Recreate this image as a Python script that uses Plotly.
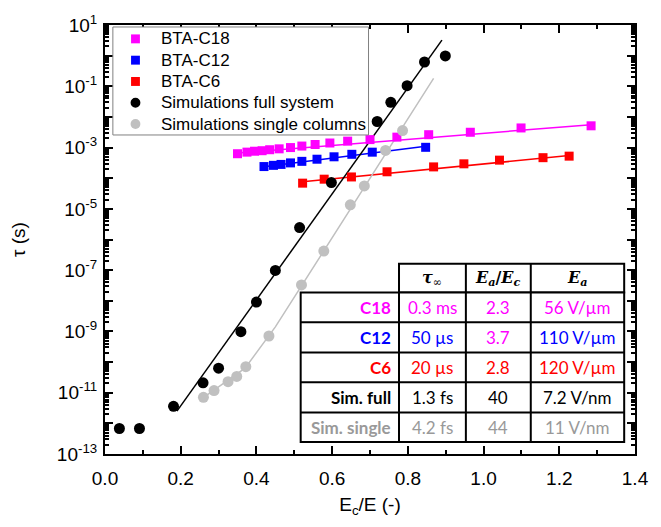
import plotly.graph_objects as go

# ---------------- data ----------------
c18_x = [0.350, 0.375, 0.395, 0.415, 0.435, 0.460, 0.490, 0.520, 0.555, 0.594, 0.641, 0.700, 0.771, 0.855, 0.965, 1.099, 1.284]
c18_y = [6.3e-4, 7.1e-4, 7.6e-4, 7.9e-4, 8.5e-4, 9.1e-4, 1.0e-3, 1.12e-3, 1.26e-3, 1.41e-3, 1.62e-3, 1.82e-3, 2.19e-3, 2.63e-3, 3.16e-3, 4.37e-3, 5.13e-3]
c18_fit_x = [0.35, 1.284]
c18_fit_y = [6.6e-4, 5.6e-3]

c12_x = [0.420, 0.445, 0.465, 0.490, 0.520, 0.560, 0.605, 0.652, 0.706, 0.847]
c12_y = [2.4e-4, 2.63e-4, 2.82e-4, 3.16e-4, 3.55e-4, 4.17e-4, 5.0e-4, 6.03e-4, 7.08e-4, 1.02e-3]
c12_fit_x = [0.42, 0.847]
c12_fit_y = [2.35e-4, 1.1e-3]

c6_x = [0.522, 0.579, 0.651, 0.745, 0.868, 0.948, 1.042, 1.157, 1.226]
c6_y = [6.9e-5, 9.3e-5, 1.10e-4, 1.62e-4, 2.34e-4, 2.95e-4, 3.89e-4, 4.68e-4, 5.25e-4]
c6_fit_x = [0.522, 1.226]
c6_fit_y = [7.6e-5, 5.5e-4]

full_x = [0.038, 0.091, 0.181, 0.259, 0.300, 0.359, 0.400, 0.450, 0.514, 0.598, 0.719, 0.755, 0.798, 0.844, 0.899]
full_y = [6.8e-13, 6.8e-13, 3.6e-12, 2.1e-11, 6.3e-11, 9.8e-10, 9.1e-9, 9.8e-8, 2.45e-6, 7.2e-5, 7.1e-3, 3.0e-2, 1.05e-1, 6.2e-1, 9.8e-1]
full_fit_x = [0.19, 0.89]
full_fit_y = [2.5e-12, 3.2]

single_x = [0.260, 0.288, 0.325, 0.348, 0.372, 0.433, 0.519, 0.578, 0.648, 0.685, 0.741, 0.786]
single_y = [7.1e-12, 1.17e-11, 2.3e-11, 3.4e-11, 7.1e-11, 7.1e-10, 3.3e-8, 4.2e-7, 1.35e-5, 5.6e-5, 8.1e-4, 3.6e-3]
single_fit_x = [0.255, 0.37, 0.45, 0.868]
single_fit_y = [6.3e-12, 6.3e-11, 1.4e-9, 1.8e-1]

y_tick_exp = list(range(1, -14, -1))
x_ticks = [0.0, 0.2, 0.4, 0.6, 0.8, 1.0, 1.2, 1.4]

legend_names = ["BTA-C18", "BTA-C12", "BTA-C6", "Simulations full system", "Simulations single columns"]

table_rows = ["C18", "C12", "C6", "Sim. full", "Sim. single"]
table_tau = ["0.3 ms", "50 µs", "20 µs", "1.3 fs", "4.2 fs"]
table_ratio = ["2.3", "3.7", "2.8", "40", "44"]
table_ea = ["56 V/µm", "110 V/µm", "120 V/µm", "7.2 V/nm", "11 V/nm"]

MAG, BLU, RED, BLK, GRY = "#ff00ff", "#0000ff", "#ff0000", "#000000", "#c0c0c0"
GRYTXT = "#999999"
row_colors = [MAG, BLU, RED, BLK, GRYTXT]
tau_colors = [MAG, BLU, RED, BLK, GRYTXT]
ratio_colors = [MAG, MAG, RED, BLK, GRYTXT]
ea_colors = [MAG, BLU, RED, BLK, GRYTXT]
legend_colors = [MAG, BLU, RED, BLK, GRY]
legend_symbols = ["square", "square", "square", "circle", "circle"]

fig = go.Figure()

def fit(x, y, c):
    fig.add_trace(go.Scatter(x=x, y=y, mode="lines", line=dict(color=c, width=1.5),
                             showlegend=False, hoverinfo="skip"))

fit(c18_fit_x, c18_fit_y, MAG)
fit(c12_fit_x, c12_fit_y, BLU)
fit(c6_fit_x, c6_fit_y, RED)
fit(single_fit_x, single_fit_y, GRY)
fit(full_fit_x, full_fit_y, BLK)

sq = dict(symbol="square", size=9)
ci = dict(symbol="circle", size=11)
series = [(c18_x, c18_y, sq), (c12_x, c12_y, sq), (c6_x, c6_y, sq), (full_x, full_y, ci), (single_x, single_y, ci)]
for (sx, sy, mk), name, col in zip(series, legend_names, legend_colors):
    fig.add_trace(go.Scatter(x=sx, y=sy, mode="markers", name=name, showlegend=False,
                             marker=dict(color=col, line=dict(width=0), **mk)))

# ---------------- pixel helpers for layout items ----------------
L, R, T, B = 105, 644, 21, 454
def px(xp):
    return (xp - L) / (R - L)
def py(yp):
    return (B - yp) / (B - T)

# ---------------- legend (drawn as a box with keys and labels) ----------------
fig.add_shape(type="rect", xref="paper", yref="paper", x0=px(113), x1=px(373), y0=py(132), y1=py(23),
              fillcolor="white", line=dict(color="#808080", width=1), layer="above")
legend_rows = [35, 56.5, 78, 99.5, 121]
for yy, name, col, sym in zip(legend_rows, legend_names, legend_colors, legend_symbols):
    if sym == "square":
        fig.add_shape(type="rect", xref="paper", yref="paper", x0=px(131.5), x1=px(140.5),
                      y0=py(yy + 4.5), y1=py(yy - 4.5), fillcolor=col, line=dict(width=0), layer="above")
    else:
        fig.add_shape(type="circle", xref="paper", yref="paper", x0=px(131), x1=px(141),
                      y0=py(yy + 5), y1=py(yy - 5), fillcolor=col, line=dict(width=0), layer="above")
    fig.add_annotation(xref="paper", yref="paper", x=px(160), y=py(yy), text=name, showarrow=False,
                       xanchor="left", yanchor="middle",
                       font=dict(family="Arial, 'Liberation Sans', sans-serif", size=17, color="black"))

# ---------------- table ----------------
col_edges = [304, 404, 472, 538, 633]
row_edges = [262, 291, 321, 351.5, 381.5, 412, 442]

shape_line = dict(color="black", width=2)
fig.add_shape(type="rect", xref="paper", yref="paper", x0=px(404), x1=px(633), y0=py(291), y1=py(262),
              fillcolor="white", line=shape_line, layer="above")
fig.add_shape(type="rect", xref="paper", yref="paper", x0=px(304), x1=px(633), y0=py(442), y1=py(291),
              fillcolor="white", line=shape_line, layer="above")
for yy in row_edges[2:-1]:
    fig.add_shape(type="line", xref="paper", yref="paper", x0=px(304), x1=px(633), y0=py(yy), y1=py(yy),
                  line=shape_line, layer="above")
for xx in col_edges[1:-1]:
    fig.add_shape(type="line", xref="paper", yref="paper", x0=px(xx), x1=px(xx), y0=py(262), y1=py(442),
                  line=shape_line, layer="above")

TFONT = "Lato, 'Open Sans', sans-serif"
headers = ["<b><i>τ</i></b><sub>∞</sub>", "<b><i>E<sub>a</sub></i>/<i>E<sub>c</sub></i></b>", "<b><i>E<sub>a</sub></i></b>"]
for i, h in enumerate(headers):
    fig.add_annotation(xref="paper", yref="paper", x=px((col_edges[i + 1] + col_edges[i + 2]) / 2),
                       y=py((row_edges[0] + row_edges[1]) / 2), text=h, showarrow=False,
                       font=dict(family="'DejaVu Serif', serif", size=16, color="black"),
                       xanchor="center", yanchor="middle")
for r in range(5):
    yc = py((row_edges[r + 1] + row_edges[r + 2]) / 2)
    fig.add_annotation(xref="paper", yref="paper", x=px(col_edges[1] - 6), y=yc,
                       text="<b>" + table_rows[r] + "</b>", showarrow=False,
                       font=dict(family=TFONT, size=17, color=row_colors[r]),
                       xanchor="right", yanchor="middle")
    for c, (vals, cols) in enumerate([(table_tau, tau_colors), (table_ratio, ratio_colors), (table_ea, ea_colors)]):
        fig.add_annotation(xref="paper", yref="paper", x=px((col_edges[c + 1] + col_edges[c + 2]) / 2), y=yc,
                           text=vals[r], showarrow=False,
                           font=dict(family=TFONT, size=17, color=cols[r]),
                           xanchor="center", yanchor="middle")

# ---------------- axes ----------------
minor_vals = []
for e in range(-13, 1):
    for m in range(2, 10):
        minor_vals.append(m * 10.0 ** e)

AX_FONT = dict(family="Arial, 'Liberation Sans', sans-serif", size=19, color="black")
fig.update_yaxes(type="log", range=[-13, 1],
                 tickvals=[10.0 ** e for e in y_tick_exp],
                 ticktext=[("10<sup>%d</sup>" % e) if (e % 2 != 0) else "" for e in y_tick_exp],
                 ticks="inside", ticklen=8, tickwidth=2, tickcolor="black",
                 minor=dict(tickvals=minor_vals, ticks="inside", ticklen=4, tickwidth=1.5, tickcolor="black", showgrid=False),
                 showline=True, linewidth=2, linecolor="black", mirror="allticks",
                 showgrid=False, zeroline=False, tickfont=AX_FONT, ticklabelstandoff=2,
                 title=dict(text="τ (s)", font=AX_FONT, standoff=26))
fig.update_xaxes(range=[0, 1.4], tickvals=x_ticks, ticktext=["%.1f" % v for v in x_ticks],
                 ticks="inside", ticklen=8, tickwidth=2, tickcolor="black",
                 minor=dict(dtick=0.1, ticks="inside", ticklen=4, tickwidth=1.5, tickcolor="black", showgrid=False),
                 showline=True, linewidth=2, linecolor="black", mirror="allticks",
                 showgrid=False, zeroline=False, tickfont=AX_FONT, ticklabelstandoff=6,
                 title=dict(text="E<sub>c</sub>/E (-)", font=AX_FONT, standoff=10))

fig.update_layout(width=661, height=527, margin=dict(l=L, r=661 - R, t=T, b=527 - B),
                  plot_bgcolor="white", paper_bgcolor="white",
                  font=AX_FONT, showlegend=False)

fig.write_html("out.html")
